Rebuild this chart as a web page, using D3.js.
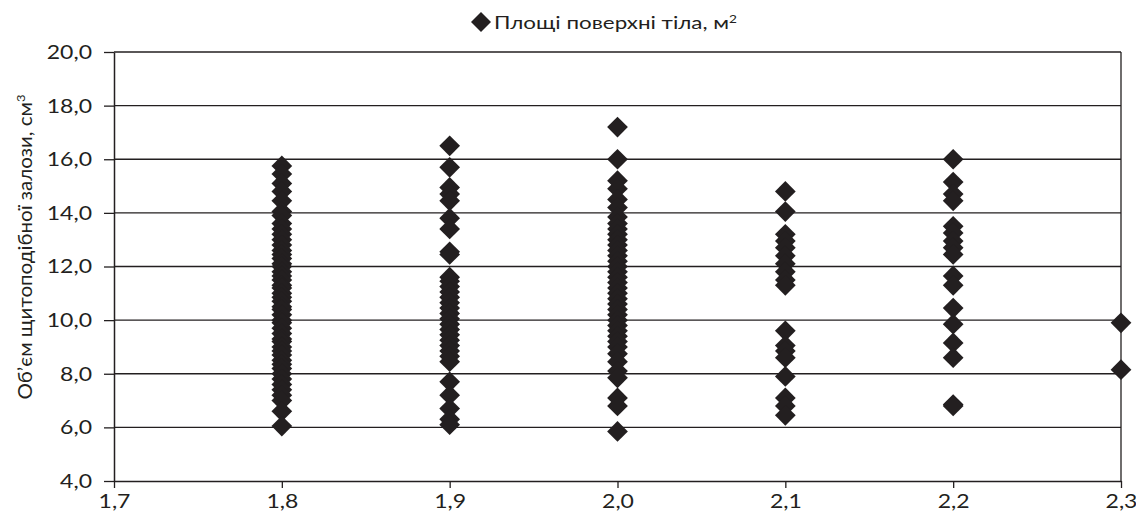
<!DOCTYPE html>
<html>
<head>
<meta charset="utf-8">
<script src="https://cdn.jsdelivr.net/npm/d3@7"></script>
<style>
  html, body { margin: 0; padding: 0; background: #fff; }
  svg { display: block; }
  text { font-family: "Lato", "Open Sans", sans-serif; fill: #231f20; }
</style>
</head>
<body>
<svg id="chart" width="1136" height="518"></svg>
<script>
// Body surface area groups (m²) and thyroid volumes (cm³) measured in each group
const bsa18 = [15.75, 15.45, 15.1, 14.8, 14.45, 14.05, 13.9, 13.6, 13.4, 13.2, 13.0, 12.8, 12.6, 12.45, 12.3, 12.1, 12.0, 11.8, 11.65, 11.5, 11.3, 11.2, 11.0, 10.85, 10.7, 10.5, 10.4, 10.2, 10.0, 9.9, 9.7, 9.5, 9.3, 9.2, 9.0, 8.85, 8.7, 8.5, 8.35, 8.2, 8.0, 7.8, 7.6, 7.4, 7.2, 7.0, 6.6, 6.05];
const bsa19 = [16.5, 15.7, 14.95, 14.7, 14.45, 13.8, 13.4, 12.55, 12.45, 11.6, 11.45, 11.25, 11.05, 10.85, 10.65, 10.45, 10.25, 10.05, 9.85, 9.65, 9.45, 9.25, 9.05, 8.85, 8.65, 8.45, 7.7, 7.2, 6.7, 6.3, 6.1];
const bsa20 = [17.2, 16.0, 15.2, 14.9, 14.5, 14.2, 13.85, 13.6, 13.4, 13.2, 13.0, 12.8, 12.6, 12.4, 12.2, 12.0, 11.8, 11.6, 11.4, 11.2, 11.0, 10.8, 10.6, 10.4, 10.2, 10.0, 9.8, 9.6, 9.4, 9.2, 9.0, 8.75, 8.45, 8.1, 7.85, 7.1, 6.8, 5.85];
const bsa21 = [14.8, 14.05, 13.2, 12.95, 12.7, 12.4, 12.1, 11.8, 11.5, 11.3, 9.6, 9.05, 8.85, 8.6, 7.9, 7.1, 6.8, 6.45];
const bsa22 = [16.0, 15.15, 14.7, 14.45, 13.5, 13.25, 12.95, 12.7, 12.45, 11.65, 11.3, 10.45, 9.85, 9.15, 8.6, 6.85, 6.8];
const bsa23 = [9.9, 8.15];

const surfaceAreas = [1.8, 1.9, 2.0, 2.1, 2.2, 2.3];
const volumes = [bsa18, bsa19, bsa20, bsa21, bsa22, bsa23];

const xTicks = [1.7, 1.8, 1.9, 2.0, 2.1, 2.2, 2.3];
const yTicks = [4, 6, 8, 10, 12, 14, 16, 18, 20];

const seriesName = "Площі поверхні тіла, м";
const yTitle = "Обʼєм щитоподібної залози, см";

const points = [];
surfaceAreas.forEach((s, i) => volumes[i].forEach(v => points.push({ x: s, y: v })));

const svg = d3.select("#chart");
const plotLeft = 114, plotRight = 1121, plotTop = 52, plotBottom = 481;

const x = d3.scaleLinear().domain([1.7, 2.3]).range([plotLeft, plotRight]);
const y = d3.scaleLinear().domain([4, 20]).range([plotBottom, plotTop]);
const fmt = v => d3.format(".1f")(v).replace(".", ",");

// widen glyphs a little (the typeface used is wide-set)
function widen(sel, k) {
  sel.each(function () {
    const len = this.getComputedTextLength();
    this.setAttribute("textLength", len * k);
    this.setAttribute("lengthAdjust", "spacingAndGlyphs");
  });
}
function fitTo(sel, len) {
  sel.attr("textLength", len).attr("lengthAdjust", "spacingAndGlyphs");
}

// horizontal gridlines
svg.append("g")
  .selectAll("line")
  .data(yTicks.slice(1))
  .join("line")
  .attr("x1", plotLeft).attr("x2", plotRight)
  .attr("y1", d => y(d)).attr("y2", d => y(d))
  .attr("stroke", "#231f20").attr("stroke-width", 1.3);

// right border of the plot area
svg.append("line")
  .attr("x1", plotRight).attr("x2", plotRight)
  .attr("y1", plotTop).attr("y2", plotBottom)
  .attr("stroke", "#231f20").attr("stroke-width", 1.3);

// y axis
const yAxis = svg.append("g")
  .attr("transform", `translate(${plotLeft},0)`)
  .call(d3.axisLeft(y).tickValues(yTicks).tickFormat(fmt).tickSize(10).tickSizeOuter(0).tickPadding(12));
yAxis.select(".domain").attr("stroke", "#231f20").attr("stroke-width", 1.5);
yAxis.selectAll(".tick line").attr("stroke", "#231f20").attr("stroke-width", 1.3);
yAxis.selectAll(".tick text").style("font-size", "20px").attr("fill", "#231f20").call(widen, 1.15);

// x axis
const xAxis = svg.append("g")
  .attr("transform", `translate(0,${plotBottom})`)
  .call(d3.axisBottom(x).tickValues(xTicks).tickFormat(fmt).tickSize(7).tickSizeOuter(0).tickPadding(6));
xAxis.select(".domain").attr("stroke", "#231f20").attr("stroke-width", 1.5);
xAxis.selectAll(".tick line").attr("stroke", "#231f20").attr("stroke-width", 1.3);
xAxis.selectAll(".tick text").style("font-size", "20px").attr("fill", "#231f20").call(widen, 1.15);

// diamond markers
const diamond = d3.symbol().type(d3.symbolSquare).size(215);
svg.append("g")
  .selectAll("path")
  .data(points)
  .join("path")
  .attr("d", diamond)
  .attr("transform", d => `translate(${x(d.x)},${y(d.y)}) rotate(45)`)
  .attr("fill", "#231f20");

// y axis title
const yt = svg.append("text")
  .attr("transform", "translate(32,247) rotate(-90)")
  .attr("text-anchor", "middle")
  .style("font-size", "19px");
yt.append("tspan").text(yTitle);
yt.append("tspan").text("3").attr("dy", -7).style("font-size", "12px");
fitTo(yt, 305);

// legend
svg.append("path")
  .attr("d", d3.symbol().type(d3.symbolSquare).size(200))
  .attr("transform", "translate(481,22) rotate(45)")
  .attr("fill", "#231f20");
const lg = svg.append("text")
  .attr("x", 494).attr("y", 29)
  .style("font-size", "18px");
lg.append("tspan").text(seriesName);
lg.append("tspan").text("2").attr("dy", -6).style("font-size", "11px");
fitTo(lg, 243);
</script>
</body>
</html>
